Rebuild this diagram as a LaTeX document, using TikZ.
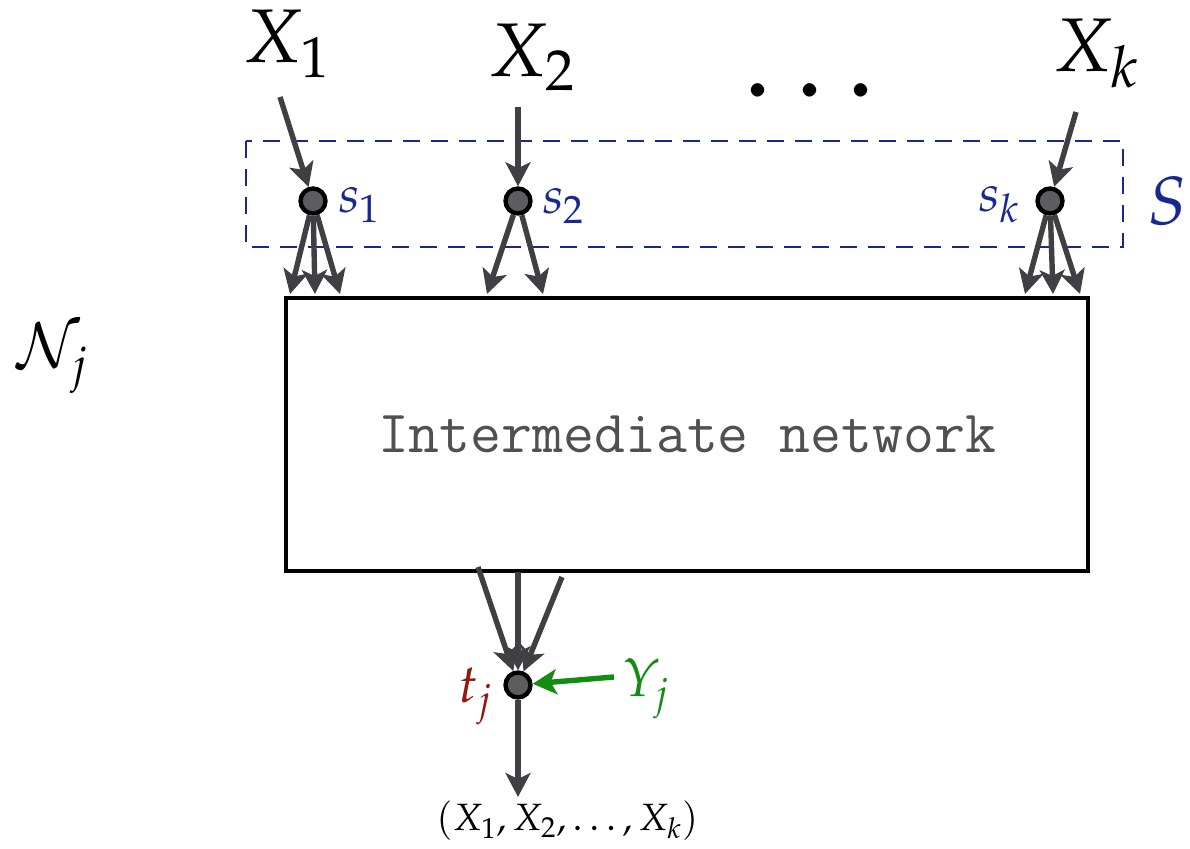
\documentclass[tikz,border=0pt]{standalone}
\usepackage{mathpazo}
\usetikzlibrary{arrows.meta}
\definecolor{arrgray}{RGB}{64,64,68}
\definecolor{srcblue}{RGB}{25,40,145}
\definecolor{sinkred}{RGB}{145,25,15}
\definecolor{sidegreen}{RGB}{20,140,20}
\definecolor{netgray}{RGB}{80,80,80}
\begin{document}
\begin{tikzpicture}[x=0.5pt,y=-0.5pt,
  vtx/.style={circle,draw=black,fill=arrgray!85,line width=2.2pt,inner sep=0pt,minimum size=12.5pt},
  arr/.style={draw=arrgray,line width=2.7pt,-{Stealth[length=12pt,width=12.5pt,inset=3pt]}},
  lbl/.style={anchor=base west,inner sep=0pt}]
  \useasboundingbox (0,0) rectangle (1190,849);
  % sources and their set S
  \draw[srcblue,line width=1.1pt,dash pattern=on 8.5pt off 5.5pt] (246,141) rectangle (1123,247);
  \node[vtx] (s1) at (313,201) {};
  \node[vtx] (s2) at (518,201) {};
  \node[vtx] (sk) at (1050,201) {};
  \node[lbl,font=\fontsize{38}{40}\selectfont] (x1) at (243,63) {$X_1$};
  \node[lbl,font=\fontsize{38}{40}\selectfont] (x2) at (488,77) {$X_2$};
  \node[lbl,font=\fontsize{38}{40}\selectfont] (xk) at (1053,72) {$X_k$};
  \node[lbl,font=\fontsize{58}{60}\selectfont] (dots) at (742,97) {$\ldots$};
  \node[lbl,font=\fontsize{26}{28}\selectfont,text=srcblue] (ls1) at (338,213) {$s_1$};
  \node[lbl,font=\fontsize{26}{28}\selectfont,text=srcblue] (ls2) at (542,214) {$s_2$};
  \node[lbl,font=\fontsize{26}{28}\selectfont,text=srcblue] (lsk) at (978,212) {$s_k$};
  \node[lbl,font=\fontsize{34}{36}\selectfont,text=srcblue] (set) at (1147,225) {$S$};
  \node[lbl,font=\fontsize{31}{33}\selectfont] (nj) at (16,368) {$\mathcal{N}_j$};
  % network
  \node[draw=black,line width=2.2pt,minimum width=401pt,minimum height=136.5pt,
        font=\fontsize{30}{32}\selectfont\ttfamily,text=netgray] (net) at (687,434.5) {Intermediate network};
  % sink
  \node[vtx] (t) at (518,685) {};
  \node[lbl,font=\fontsize{27}{29}\selectfont,text=sinkred] (lt) at (458,703) {$t_j$};
  \node[lbl,font=\fontsize{27}{29}\selectfont,text=sidegreen] (yj) at (623,697) {$Y_j$};
  \node[lbl,font=\fontsize{19}{21}\selectfont] (out) at (436,831) {$(X_1,X_2,\ldots,X_k)$};
  % free ends
  \coordinate (cx1) at (280,97);
  \coordinate (cx2) at (518,107);
  \coordinate (cxk) at (1076,112);
  \foreach \n/\x in {a1/290,a2/315,a3/340,b1/487,b2/543,c1/1025,c2/1053,c3/1080}
    \coordinate (\n) at (\x,294);
  \coordinate (d1) at (478,567);
  \coordinate (d2) at (518,572);
  \coordinate (d3) at (562,577);
  \coordinate (cy) at (614,677);
  \coordinate (co) at (518,797);
  % connectors
  \draw[arr] (cx1) -- (s1);
  \draw[arr] (cx2) -- (s2);
  \draw[arr] (cxk) -- (sk);
  \foreach \n in {a1,a2,a3} \draw[arr] (s1) -- (\n);
  \foreach \n in {b1,b2} \draw[arr] (s2) -- (\n);
  \foreach \n in {c1,c2,c3} \draw[arr] (sk) -- (\n);
  \foreach \n in {d1,d2,d3} \draw[arr] (\n) -- (t);
  \draw[arr,draw=sidegreen] (cy) -- (t);
  \draw[arr] (t) -- (co);
\end{tikzpicture}
\end{document}
